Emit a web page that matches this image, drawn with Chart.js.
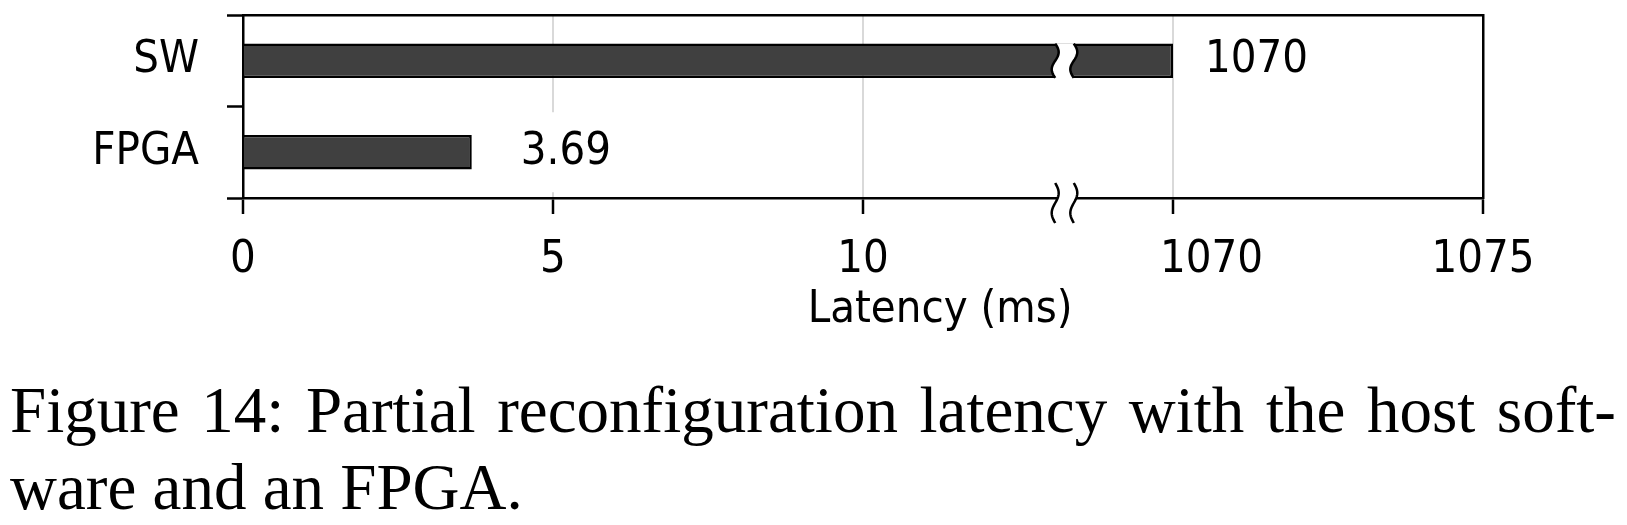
<!DOCTYPE html>
<html><head><meta charset="utf-8">
<script src="https://cdn.jsdelivr.net/npm/chart.js@4.4.1/dist/chart.umd.min.js"></script>
<style>
html,body{margin:0;padding:0;background:#fff;}
#wrap{position:relative;width:1627px;height:525px;overflow:hidden;background:#fff;}
#c{position:absolute;left:0;top:0;}
.cap{position:absolute;left:10px;width:1606px;font-family:'Liberation Serif','Times New Roman',serif;font-size:65px;line-height:77px;color:#000;white-space:nowrap;}
#cap1{top:372px;text-align:justify;text-align-last:justify;}
#cap2{top:449px;}
</style></head><body>
<div id="wrap"><canvas id="c" width="1627" height="345"></canvas>
<div class="cap" id="cap1">Figure 14: Partial reconfiguration latency with the host soft-</div>
<div class="cap" id="cap2">ware and an FPGA.</div></div>
<script>
// ---- data ----
const categories = ['SW', 'FPGA'];
const latencyMs = [1070, 3.69];
const tickValues = [0, 5, 10, 1070, 1075];
const tickLabels = ['0', '5', '10', '1070', '1075'];
const axisTitle = 'Latency (ms)';
const lowerSegment = [0, 13.1];       // shown range before the break
const upperSegment = [1068.4, 1075];  // shown range after the break

// ---- style ----
const BREAK_GAP = 0.3;   // axis units of empty space at the break
const FONT = {family: "'DejaVu Sans Condensed', 'DejaVu Sans', sans-serif", size: 45};
const LABEL_GAP = [32, 49];          // px between bar end and its value label
const TICK_NUDGE = {'1070': 40};      // px shift of specific tick labels
const TITLE_NUDGE = 75;

function toAxis(v) {
  return v <= lowerSegment[1] ? v : v - (upperSegment[0] - lowerSegment[1]) + BREAK_GAP;
}

const canvas = document.getElementById('c');
const ctx = canvas.getContext('2d');
ctx.font = FONT.size + 'px ' + FONT.family;
const spaceW = ctx.measureText('a a').width - ctx.measureText('aa').width;
function shifted(text, px) {
  const n = Math.max(0, Math.round(2 * px / spaceW));
  return ' '.repeat(n) + text;
}

function wavePts(cx, top, bot, amp) {
  const pts = [];
  const N = 24;
  for (let k = 0; k <= N; k++) {
    const f = k / N;
    pts.push([cx + amp * Math.sin(f * 2 * Math.PI), top + f * (bot - top)]);
  }
  return pts;
}

const breakPlugin = {
  id: 'axisBreak',
  afterDatasetsDraw(chart) {
    const xs = chart.scales.x, area = chart.chartArea, c = chart.ctx;
    const xa = xs.getPixelForValue(lowerSegment[1]);
    const xb = xs.getPixelForValue(toAxis(upperSegment[0]));
    const spans = [];
    chart.getDatasetMeta(0).data.forEach((bar, i) => {
      if (latencyMs[i] > lowerSegment[1]) {
        const p = bar.getProps(['y', 'height'], true);
        spans.push([p.y - p.height / 2, p.y + p.height / 2]);
      }
    });
    spans.push([area.bottom - 15, area.bottom + 25]);
    c.save();
    spans.forEach(([top, bot]) => {
      const L = wavePts(xa, top, bot, 3.5), R = wavePts(xb, top, bot, 3.5);
      c.beginPath();
      L.forEach(([x, y], k) => k ? c.lineTo(x, y) : c.moveTo(x, y));
      R.slice().reverse().forEach(([x, y]) => c.lineTo(x, y));
      c.closePath();
      c.fillStyle = '#fff';
      c.fill();
      c.lineWidth = 2.5; c.strokeStyle = '#000';
      [L, R].forEach(P => {
        c.beginPath();
        P.forEach(([x, y], k) => k ? c.lineTo(x, y) : c.moveTo(x, y));
        c.stroke();
      });
    });
    c.restore();
  }
};

const valueLabelPlugin = {
  id: 'valueLabels',
  afterDatasetsDraw(chart) {
    const c = chart.ctx;
    c.save();
    c.font = FONT.size + 'px ' + FONT.family;
    c.textAlign = 'left'; c.textBaseline = 'middle';
    chart.getDatasetMeta(0).data.forEach((bar, i) => {
      const p = bar.getProps(['x', 'y'], true);
      const txt = String(latencyMs[i]);
      const x = p.x + LABEL_GAP[i];
      const w = c.measureText(txt).width;
      c.fillStyle = '#fff';
      c.fillRect(x - 10, p.y - 40, w + 20, 80);
      c.fillStyle = '#000';
      c.fillText(txt, x, p.y);
    });
    c.restore();
  }
};

function noPad(s) { s.paddingTop = 0; s.paddingBottom = 0; s.paddingLeft = 0; s.paddingRight = 0; }

new Chart(ctx, {
  type: 'bar',
  data: {
    labels: categories,
    datasets: [{
      data: latencyMs.map(toAxis),
      xAxisID: 'x', yAxisID: 'y',
      backgroundColor: '#404040', borderColor: '#000', borderWidth: 2.5,
      barPercentage: 0.375, categoryPercentage: 1
    }]
  },
  options: {
    indexAxis: 'y', responsive: false, animation: false,
    layout: {padding: {top: 15, right: 144, left: 0, bottom: 0}},
    plugins: {legend: {display: false}, tooltip: {enabled: false}},
    scales: {
      x: {
        type: 'linear', position: 'bottom', min: 0, max: toAxis(upperSegment[1]),
        afterBuildTicks: s => { s.ticks = tickValues.map(v => ({value: toAxis(v)})); },
        afterFit: s => { s.height = 345 - 198; noPad(s); },
        ticks: {
          font: FONT, color: '#000', padding: 19, maxRotation: 0, minRotation: 0, autoSkip: false,
          callback: (val, i) => TICK_NUDGE[tickLabels[i]] ? shifted(tickLabels[i], TICK_NUDGE[tickLabels[i]]) : tickLabels[i]
        },
        grid: {color: '#d9d9d9', lineWidth: 2, tickLength: 16, tickColor: '#000', tickWidth: 2.5},
        border: {color: '#000', width: 2.5},
        title: {display: true, text: shifted(axisTitle, TITLE_NUDGE), font: FONT, color: '#000', padding: {top: 0, bottom: 8}}
      },
      y: {
        type: 'category', position: 'left', offset: true,
        afterFit: s => { s.width = 243; noPad(s); },
        ticks: {font: FONT, color: '#000', padding: 28},
        grid: {offset: true, drawOnChartArea: false, tickLength: 16, tickColor: '#000', tickWidth: 2.5},
        border: {color: '#000', width: 2.5}
      },
      xTop: {
        type: 'linear', position: 'top', min: 0, max: toAxis(upperSegment[1]),
        afterFit: s => { s.height = 0; noPad(s); },
        ticks: {display: false}, grid: {display: false, drawTicks: false},
        border: {display: true, color: '#000', width: 2.5}
      },
      yRight: {
        type: 'category', position: 'right', offset: true,
        afterFit: s => { s.width = 0; noPad(s); },
        ticks: {display: false}, grid: {display: false, drawTicks: false},
        border: {display: true, color: '#000', width: 2.5}
      }
    }
  },
  plugins: [breakPlugin, valueLabelPlugin]
});
</script>
</body></html>
